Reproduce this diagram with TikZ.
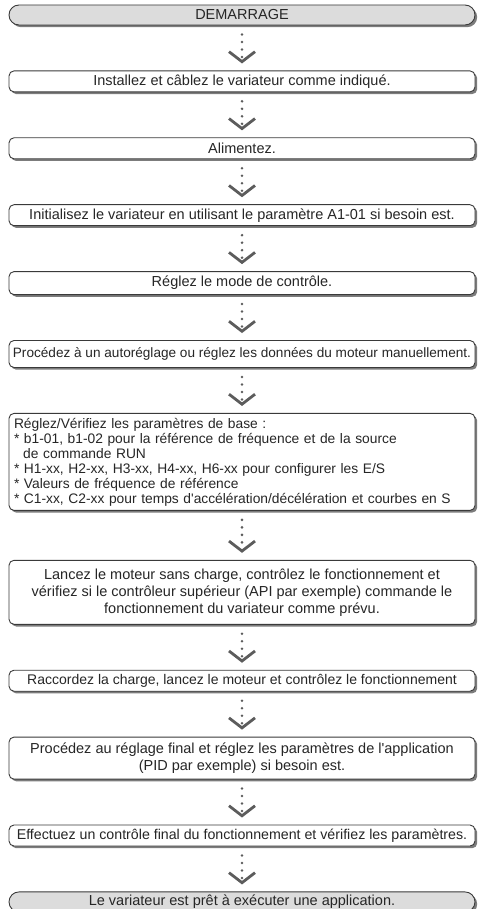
\documentclass[tikz,border=0pt]{standalone}
\usepackage{fontspec}
\setmainfont{Liberation Sans}
\usepackage{tikz}
\usetikzlibrary{arrows.meta,positioning,shadows}

\definecolor{edgegray}{HTML}{3A3A3A}
\definecolor{termgray}{HTML}{DCDCDC}
\definecolor{shadowgray}{HTML}{7C7C7C}
\definecolor{flowgray}{HTML}{5C5C5C}

\begin{document}
\begin{tikzpicture}[
  x=1pt, y=1pt,
  stepbox/.style={draw=edgegray, line width=0.9pt, fill=white, rounded corners=5pt, minimum width=466pt, minimum height=21pt, inner sep=2pt, align=center, text=black!85, font=\fontsize{14.5}{17}\selectfont, drop shadow={shadow xshift=2.2pt, shadow yshift=-2.2pt, fill=shadowgray, opacity=1}},
  termbox/.style={stepbox, fill=termgray, rounded corners=10pt, minimum height=20pt},
  flow/.style={draw=flowgray, line width=2.8pt, line cap=round, dash pattern=on 0pt off 7.5pt, shorten <=9pt, shorten >=7pt, -{Straight Barb[length=10pt, width=26pt, line width=2.8pt]}},
  node distance=45pt
]
\useasboundingbox (0,0) rectangle (480,-909);

\node[termbox] (start) at (242,-15) {DEMARRAGE};
\node[stepbox, below=of start] (install) {Installez et câblez le variateur comme indiqué.};
\node[stepbox, below=of install] (power) {Alimentez.};
\node[stepbox, below=of power] (init) {Initialisez le variateur en utilisant le paramètre A1-01 si besoin est.};
\node[stepbox, minimum height=23pt, below=of init] (ctrlmode) {Réglez le mode de contrôle.};
\node[stepbox, minimum height=27pt, inner xsep=1pt, font=\fontsize{13.6}{16}\selectfont, below=of ctrlmode] (autotune) {Procédez à un autoréglage ou réglez les données du moteur manuellement.};
\node[stepbox, minimum height=97pt, align=left, text width=456pt, inner xsep=5pt, font=\fontsize{13.8}{15}\selectfont, below=of autotune] (basic) {%
  Réglez/Vérifiez les paramètres de base :\\
  {*} b1-01, b1-02 pour la référence de fréquence et de la source\\
  \hspace*{0.67em}de commande RUN\\
  {*} H1-xx, H2-xx, H3-xx, H4-xx, H6-xx pour configurer les E/S\\
  {*} Valeurs de fréquence de référence\\
  {*} C1-xx, C2-xx pour temps d\textquotesingle accélération/décélération et courbes en S};
\node[stepbox, minimum height=64pt, below=49pt of basic] (norun) {Lancez le moteur sans charge, contrôlez le fonctionnement et\\vérifiez si le contrôleur supérieur (API par exemple) commande le\\fonctionnement du variateur comme prévu.};
\node[stepbox, inner xsep=1pt, font=\fontsize{14}{16}\selectfont, below=of norun] (load) {Raccordez la charge, lancez le moteur et contrôlez le fonctionnement};
\node[stepbox, minimum height=42pt, below=of load] (finetune) {Procédez au réglage final et réglez les paramètres de l\textquotesingle application\\(PID par exemple) si besoin est.};
\node[stepbox, font=\fontsize{14.2}{16}\selectfont, below=of finetune] (check) {Effectuez un contrôle final du fonctionnement et vérifiez les paramètres.};
\node[termbox, below=of check] (ready) {Le variateur est prêt à exécuter une application.};

% flèches pointillées entre les étapes
\foreach \a/\b in {start/install, install/power, power/init, init/ctrlmode, ctrlmode/autotune, autotune/basic, basic/norun, norun/load, load/finetune, finetune/check, check/ready}
  \draw[flow] (\a) -- (\b);

\end{tikzpicture}
\end{document}
